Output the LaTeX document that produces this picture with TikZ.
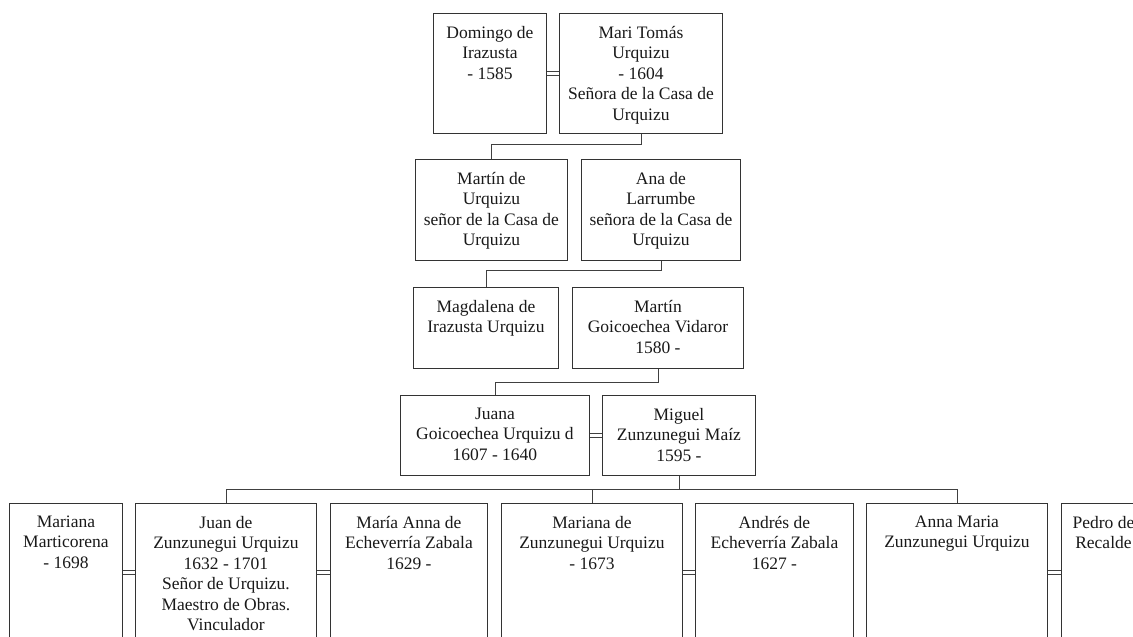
\documentclass[tikz,border=0pt]{standalone}
\usepackage{fontspec}
\setmainfont{Liberation Serif}
\usepackage{tikz}
\usetikzlibrary{positioning}
\tikzset{
  person/.style={
    draw=black!80, rectangle, line width=0.9pt, inner sep=0mm, anchor=north west
  },
  pname/.style={
    anchor=north, align=center, inner sep=0mm, yshift=-12.7pt, text=black!90,
    font=\fontsize{17.5}{20.5}\selectfont, execute at begin node=\strut
  },
  wed/.style={
    draw=black!75, double, double distance=3.4pt, line width=0.7pt
  },
  kin/.style={
    draw=black!75, line width=0.9pt
  }
}

\begin{document}
\begin{tikzpicture}[x=1pt, y=-1pt]
   \clip (0,0) rectangle (1133,637);

   \node[person, minimum width=113, minimum height=120, label={[pname]north:{Domingo de\\Irazusta\\- 1585}}] (dom) at (433, 13) {};
   \node[person, minimum width=163, minimum height=120, label={[pname]north:{Mari Tomás\\Urquizu\\- 1604\\Señora de la Casa de\\Urquizu}}] (mari) at (559, 13) {};

   \node[person, minimum width=152, minimum height=101, label={[pname]north:{Martín de\\Urquizu\\señor de la Casa de\\Urquizu}}] (mur) at (415, 159) {};
   \node[person, minimum width=159, minimum height=101, label={[pname]north:{Ana de\\Larrumbe\\señora de la Casa de\\Urquizu}}] (ana) at (581, 159) {};

   \node[person, minimum width=145, minimum height=81, label={[pname]north:{Magdalena de\\Irazusta Urquizu}}] (mag) at (413, 287) {};
   \node[person, minimum width=171, minimum height=81, label={[pname]north:{Martín\\Goicoechea Vidaror\\1580 -}}] (mgo) at (572, 287) {};

   \node[person, minimum width=189, minimum height=80, label={[pname]north:{Juana\\Goicoechea Urquizu d\\1607 - 1640}}] (jua) at (400, 395) {};
   \node[person, minimum width=153, minimum height=80, label={[pname]north:{Miguel\\Zunzunegui Maíz\\1595 -}}] (mig) at (602, 395) {};

   \node[person, minimum width=113, minimum height=138, label={[pname]north:{Mariana\\Marticorena\\- 1698}}] (mmar) at (9, 503) {};
   \node[person, minimum width=181, minimum height=138, label={[pname]north:{Juan de\\Zunzunegui Urquizu\\1632 - 1701\\Señor de Urquizu.\\Maestro de Obras.\\Vinculador}}] (juan) at (135, 503) {};
   \node[person, minimum width=157, minimum height=138, label={[pname]north:{María Anna de\\Echeverría Zabala\\1629 -}}] (mae) at (330, 503) {};
   \node[person, minimum width=181, minimum height=138, label={[pname]north:{Mariana de\\Zunzunegui Urquizu\\- 1673}}] (mzu) at (501, 503) {};
   \node[person, minimum width=158, minimum height=138, label={[pname]north:{Andrés de\\Echeverría Zabala\\1627 -}}] (aez) at (695, 503) {};
   \node[person, minimum width=181, minimum height=138, label={[pname]north:{Anna Maria\\Zunzunegui Urquizu}}] (amz) at (866, 503) {};
   \node[person, minimum width=84, minimum height=138, label={[pname]north:{Pedro de\\Recalde}}] (ped) at (1061, 503) {};

   \draw[wed] (dom.east) -- (mari.west);
   \draw[wed] (mur.east) -- (ana.west);
   \draw[wed] (mag.east) -- (mgo.west);
   \draw[wed] (jua.east) -- (mig.west);
   \draw[wed] (mmar.east) -- (juan.west);
   \draw[wed] (juan.east) -- (mae.west);
   \draw[wed] (mzu.east) -- (aez.west);
   \draw[wed] (amz.east) -- (ped.west);

   \draw[kin] (mari.south) -- ++(0, 11) -| (mur.north);
   \draw[kin] (ana.south) -- ++(0, 10) -| (mag.north);
   \draw[kin] (mgo.south) -- ++(0, 14) -| (jua.north);

   \coordinate (bar) at (0, 489);
   \draw[kin] (juan.north) |- (bar -| amz.north) -- (amz.north);
   \draw[kin] (mig.south) -- (mig.south |- bar);
   \draw[kin] (mzu.north) -- (mzu.north |- bar);
\end{tikzpicture}
\end{document}
